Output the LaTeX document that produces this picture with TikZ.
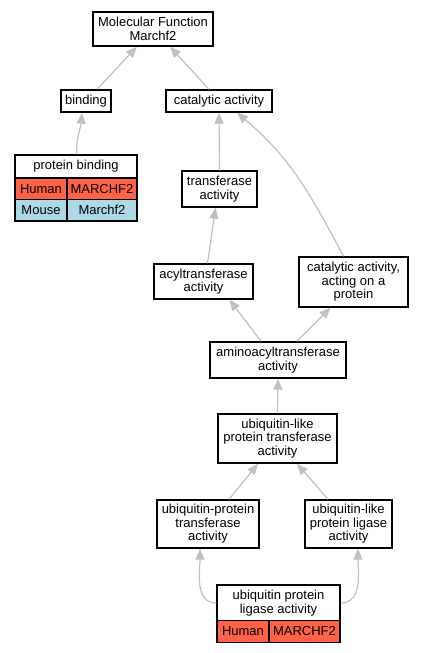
\documentclass[tikz,border=0pt]{standalone}
\usepackage{fontspec}
\setmainfont{Liberation Sans}
\usetikzlibrary{arrows.meta}
\definecolor{edgegray}{RGB}{192,192,192}
\definecolor{humanred}{RGB}{255,99,71}
\definecolor{mouseblue}{RGB}{173,216,230}

\begin{document}
\begin{tikzpicture}[x=1pt, y=-1pt, font=\fontsize{13}{13.5}\selectfont,
  term/.style={draw=black, line width=1.4pt, fill=white, align=center, inner sep=0pt},
  cell/.style={draw=black, line width=1.1pt, inner sep=0pt, minimum height=21.5},
  edge/.style={draw=edgegray, line width=1.2pt, -{Triangle[length=11pt,width=9pt]}}]

\useasboundingbox (0,0) rectangle (423,653);

\node[term, minimum width=120, minimum height=34] (mf) at (153,29) {Molecular Function\\Marchf2};

\node[term, minimum width=50, minimum height=22] (binding) at (86,101) {binding};
\node[term, minimum width=106, minimum height=22] (cat) at (219,101) {catalytic activity};

% protein binding table
\node[term, minimum width=122, minimum height=23] (pb) at (76,166.5) {protein binding};
\node[cell, fill=humanred, minimum width=52] (pbhuman) at (41,188.75) {Human};
\node[cell, fill=humanred, minimum width=70] (pbhgene) at (102,188.75) {MARCHF2};
\node[cell, fill=mouseblue, minimum width=52] (pbmouse) at (41,210.25) {Mouse};
\node[cell, fill=mouseblue, minimum width=70] (pbmgene) at (102,210.25) {Marchf2};

\node[term, minimum width=75, minimum height=36] (trans) at (219.5,189) {transferase\\activity};
\node[term, minimum width=99, minimum height=35] (acyl) at (203.5,281.5) {acyltransferase\\activity};
\node[term, minimum width=109, minimum height=50] (catprot) at (353.5,282) {catalytic activity,\\acting on a\\protein};
\node[term, minimum width=136, minimum height=36] (amino) at (278,360) {aminoacyltransferase\\activity};
\node[term, minimum width=119, minimum height=49] (ubltrans) at (277.5,438.5) {ubiquitin-like\\protein transferase\\activity};
\node[term, minimum width=102, minimum height=48] (ubptrans) at (208,524) {ubiquitin-protein\\transferase\\activity};
\node[term, minimum width=87, minimum height=48] (ubllig) at (348.5,524) {ubiquitin-like\\protein ligase\\activity};

% ubiquitin protein ligase table
\node[term, minimum width=123, minimum height=36] (ubplig) at (278.5,603) {ubiquitin protein\\ligase activity};
\node[cell, fill=humanred, minimum width=52] (ubhuman) at (243,631.5) {Human};
\node[cell, fill=humanred, minimum width=71] (ubhgene) at (304.5,631.5) {MARCHF2};

\draw[edge] ([xshift=11pt]binding.north) -- ([xshift=-16pt]mf.south);
\draw[edge] ([xshift=-10pt]cat.north) -- ([xshift=17pt]mf.south);
\draw[edge] ([xshift=1pt]pb.north) to[out=95,in=-95] ([xshift=-4pt]binding.south);
\draw[edge] (trans.north) -- (cat.south);
\draw[edge] ([xshift=-10pt]catprot.north) to[out=118,in=-40] ([xshift=18pt]cat.south);
\draw[edge] ([xshift=4pt]acyl.north) -- ([xshift=-4pt]trans.south);
\draw[edge] ([xshift=-17pt]amino.north) -- ([xshift=26pt]acyl.south);
\draw[edge] ([xshift=19pt]amino.north) -- ([xshift=-23pt]catprot.south);
\draw[edge] (ubltrans.north) -- (amino.south);
\draw[edge] ([xshift=21pt]ubptrans.north) -- ([xshift=-19.5pt]ubltrans.south);
\draw[edge] ([xshift=-20.5pt]ubllig.north) -- ([xshift=19.5pt]ubltrans.south);
\draw[edge] (ubplig.west) to[out=180,in=-90] ([xshift=-8pt]ubptrans.south);
\draw[edge] (ubplig.east) to[out=0,in=-90] ([xshift=9.5pt]ubllig.south);
\end{tikzpicture}
\end{document}
